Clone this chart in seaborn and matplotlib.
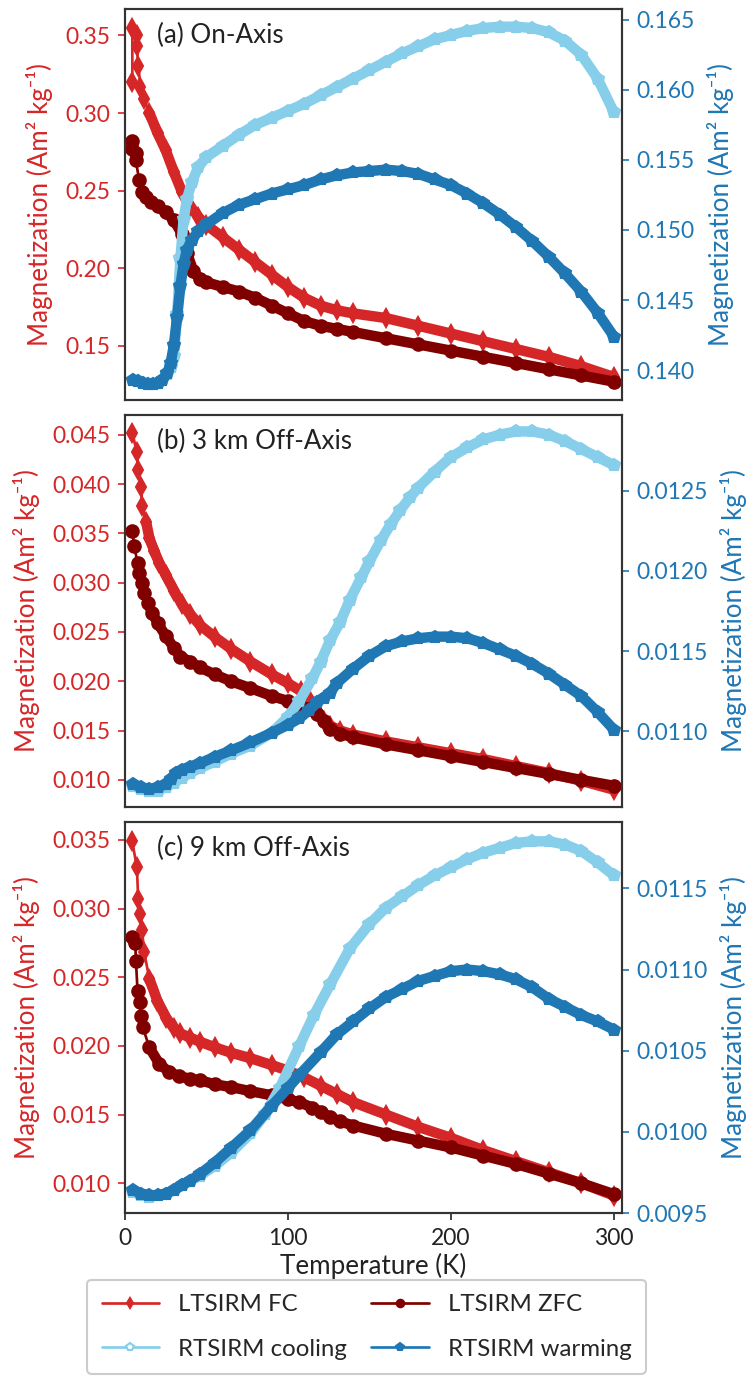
import numpy as np
import seaborn as sns
import matplotlib.pyplot as plt

# ---- datos ----
# (a) On-Axis
fc_a_T = [4.5, 4.5, 7.3, 7.3, 8.2, 9.5, 11.5, 15, 20, 25, 30, 35, 40, 45, 50, 60, 70, 80, 90, 100,
          110, 120, 130, 140, 160, 180, 200, 220, 240, 260, 280, 300]
fc_a = [0.320, 0.355, 0.350, 0.343, 0.330, 0.317, 0.309, 0.300, 0.287, 0.276, 0.262, 0.249, 0.240,
        0.233, 0.228, 0.220, 0.212, 0.204, 0.196, 0.188, 0.181, 0.176, 0.173, 0.171, 0.168, 0.163,
        0.158, 0.153, 0.148, 0.143, 0.137, 0.130]
zfc_a_T = [4.5, 4.5, 6.5, 6.5, 8.7, 10.6, 13, 16, 20, 25, 30, 35, 38, 42, 46, 50, 60, 70, 80, 90, 100,
           110, 120, 130, 140, 160, 180, 200, 220, 240, 260, 280, 300]
zfc_a = [0.282, 0.277, 0.2745, 0.270, 0.257, 0.249, 0.246, 0.243, 0.240, 0.236, 0.231, 0.222, 0.210,
         0.198, 0.193, 0.191, 0.188, 0.185, 0.181, 0.176, 0.171, 0.166, 0.163, 0.161, 0.159, 0.155,
         0.151, 0.147, 0.143, 0.139, 0.135, 0.131, 0.127]
rt_a_T = [5, 8, 11, 14, 17, 20, 23, 26, 28, 30, 32, 34, 36, 38, 41, 45, 50, 60, 70, 80, 90, 100, 110,
          120, 130, 140, 150, 160, 170, 180, 190, 200, 210, 220, 230, 240, 250, 260, 270, 280, 290, 300]
warm_a = [0.1393, 0.1392, 0.1391, 0.1390, 0.1390, 0.1391, 0.1393, 0.1398, 0.1405, 0.1418, 0.1438,
          0.1460, 0.1476, 0.1486, 0.1493, 0.1499, 0.1504, 0.1512, 0.1518, 0.1522, 0.1526, 0.1529,
          0.1532, 0.1536, 0.1539, 0.1541, 0.1542, 0.1543, 0.1542, 0.1540, 0.1536, 0.1532, 0.1526,
          0.1519, 0.1511, 0.1502, 0.1492, 0.1481, 0.1469, 0.1456, 0.1441, 0.1424]
cool_a = [0.1393, 0.1392, 0.1391, 0.1390, 0.1390, 0.1391, 0.1393, 0.1397, 0.1402, 0.1410, 0.1440,
          0.1480, 0.1508, 0.1522, 0.1534, 0.1545, 0.1552, 0.1560, 0.1568, 0.1575, 0.1580, 0.1585,
          0.1590, 0.1596, 0.1602, 0.1608, 0.1614, 0.1620, 0.1626, 0.1631, 0.1636, 0.1639, 0.1642,
          0.1644, 0.1645, 0.1645, 0.1644, 0.1641, 0.1635, 0.1625, 0.1608, 0.1584]

# (b) 3 km Off-Axis
fc_b_T = [4.5, 7.3, 8.1, 9.8, 10.6, 12.9, 15, 18, 21, 25, 30, 35, 40, 46, 55, 65, 77, 90, 100, 108,
          113, 118, 122, 126, 132, 140, 160, 180, 200, 220, 240, 260, 280, 300]
fc_b = [0.0452, 0.0432, 0.0414, 0.0397, 0.0378, 0.0362, 0.0345, 0.0332, 0.0320, 0.0308, 0.0292,
        0.0278, 0.0268, 0.0257, 0.0245, 0.0233, 0.0220, 0.0207, 0.0198, 0.0190, 0.0182, 0.0170,
        0.0160, 0.0155, 0.0150, 0.0146, 0.0139, 0.0133, 0.0127, 0.0121, 0.0114, 0.0107, 0.0099, 0.0090]
zfc_b_T = [4.5, 5.7, 7.7, 8.7, 10.4, 11.8, 14, 16.8, 20, 25, 30, 34, 40, 46, 55, 65, 77, 90, 100,
           107, 113, 118, 122, 126, 132, 140, 160, 180, 200, 220, 240, 260, 280, 300]
zfc_b = [0.0352, 0.0337, 0.0320, 0.0310, 0.0300, 0.0289, 0.0279, 0.0269, 0.0259, 0.0246, 0.0234,
         0.0225, 0.0220, 0.0214, 0.0207, 0.0200, 0.0193, 0.0185, 0.0180, 0.0176, 0.0172, 0.0167,
         0.0160, 0.0152, 0.0147, 0.0143, 0.0136, 0.0130, 0.0124, 0.0118, 0.0112, 0.0106, 0.0100, 0.0094]
warm_b_T = [5, 10, 15, 20, 25, 28, 31, 35, 40, 46, 55, 65, 77, 90, 100, 107, 113, 118, 122, 126, 130,
            140, 150, 160, 170, 180, 190, 200, 210, 220, 230, 240, 250, 260, 270, 280, 290, 300]
warm_b = [0.01067, 0.01065, 0.01064, 0.01065, 0.01067, 0.01070, 0.01074, 0.01076, 0.01078, 0.01080,
          0.01084, 0.01088, 0.01093, 0.01099, 0.01104, 0.01108, 0.01113, 0.01118, 0.01121, 0.01124,
          0.01130, 0.01139, 0.01147, 0.01153, 0.01156, 0.01158, 0.01159, 0.01159, 0.01158, 0.01155,
          0.01151, 0.01147, 0.01142, 0.01136, 0.01129, 0.01122, 0.01112, 0.01101]
cool_b_T = [5, 10, 15, 20, 25, 30, 35, 40, 46, 55, 65, 77, 90, 100, 107, 115, 120, 126, 132, 138, 145,
            150, 157, 163, 169, 175, 180, 190, 200, 210, 220, 230, 240, 250, 260, 270, 280, 290, 300]
cool_b = [0.01066, 0.01064, 0.01063, 0.01063, 0.01065, 0.01068, 0.01071, 0.01074, 0.01077, 0.01081,
          0.01086, 0.01091, 0.01099, 0.01109, 0.01119, 0.01133, 0.01143, 0.01157, 0.01168, 0.01182,
          0.01196, 0.01206, 0.01219, 0.01229, 0.01238, 0.01246, 0.01252, 0.01262, 0.01271, 0.01277,
          0.01282, 0.01285, 0.01287, 0.01287, 0.01285, 0.01281, 0.01276, 0.01271, 0.01266]

# (c) 9 km Off-Axis
fc_c_T = [4.4, 7.3, 8.1, 9.2, 10.4, 11.8, 14.9, 19.8, 25.4, 30, 34, 40, 46, 55, 65, 77, 90, 100, 110,
          120, 130, 140, 160, 180, 200, 220, 240, 260, 280, 300]
fc_c = [0.0349, 0.0330, 0.0307, 0.0296, 0.0284, 0.0268, 0.0249, 0.0233, 0.0220, 0.0213, 0.0209,
        0.0206, 0.0203, 0.0199, 0.0195, 0.0191, 0.0186, 0.0182, 0.0177, 0.0171, 0.0165, 0.0159,
        0.0150, 0.0141, 0.0133, 0.0124, 0.0116, 0.0108, 0.0100, 0.0091]
zfc_c_T = [4.5, 6.3, 6.7, 7.7, 9.2, 9.8, 10.8, 14.9, 21, 27, 33, 40, 46, 55, 65, 77, 90, 100, 107, 115,
           120, 126, 132, 140, 160, 180, 200, 220, 240, 260, 280, 300]
zfc_c = [0.0279, 0.0275, 0.0262, 0.0240, 0.0232, 0.0222, 0.0214, 0.0199, 0.0187, 0.0181, 0.0178,
         0.0176, 0.0175, 0.0172, 0.0170, 0.0167, 0.0164, 0.0161, 0.0159, 0.0155, 0.0152, 0.0148,
         0.0145, 0.0142, 0.0136, 0.0131, 0.0126, 0.0120, 0.0114, 0.0107, 0.0100, 0.0092]
warm_c_T = [5, 10, 15, 20, 25, 30, 35, 40, 46, 55, 65, 77, 90, 100, 107, 120, 130, 140, 150, 160, 170,
            180, 190, 200, 210, 220, 230, 240, 250, 260, 270, 280, 290, 300]
warm_c = [0.00964, 0.00962, 0.00961, 0.00961, 0.00962, 0.00964, 0.00967, 0.00970, 0.00974, 0.00981,
          0.00990, 0.01001, 0.01016, 0.01027, 0.01035, 0.01049, 0.01060, 0.01068, 0.01076, 0.01083,
          0.01088, 0.01093, 0.01096, 0.01099, 0.01100, 0.01099, 0.01097, 0.01094, 0.01089, 0.01082,
          0.01077, 0.01072, 0.01068, 0.01063]
cool_c_T = [5, 10, 15, 20, 25, 30, 35, 40, 46, 55, 65, 77, 86, 95, 107, 116, 126, 138, 150, 160, 170,
            180, 190, 200, 210, 220, 230, 240, 250, 260, 270, 280, 290, 300]
cool_c = [0.00963, 0.00961, 0.00960, 0.00961, 0.00962, 0.00964, 0.00967, 0.00970, 0.00973, 0.00979,
          0.00987, 0.00999, 0.01011, 0.01027, 0.01053, 0.01072, 0.01091, 0.01113, 0.01128, 0.01138,
          0.01145, 0.01152, 0.01158, 0.01163, 0.01168, 0.01172, 0.01175, 0.01178, 0.01179, 0.01179,
          0.01177, 0.01173, 0.01166, 0.01158]

paneles = ["(a) On-Axis", "(b) 3 km Off-Axis", "(c) 9 km Off-Axis"]
ylim_izq = [(0.1151, 0.367), (0.00729, 0.04696), (0.00783, 0.03631)]
ylim_der = [(0.13786, 0.16576), (0.01053, 0.01297), (0.0095, 0.01191)]

ROJO, GRANATE, CELESTE, AZUL = "#d62728", "#800000", "#87ceeb", "#1f77b4"

sns.set_style("ticks")
plt.rcParams["font.family"] = ["Lato", "DejaVu Sans"]
plt.rcParams["axes.edgecolor"] = "#333333"


def dibujar(ax, T, M, color, marker, mfc, label, t_banda=12):
    T = np.asarray(T, dtype=float)
    M = np.asarray(M, dtype=float)
    sns.lineplot(x=T, y=M, ax=ax, color=color, linewidth=1.3, marker=marker, markersize=6,
                 markerfacecolor=mfc, markeredgecolor=color, markeredgewidth=1.0, sort=False,
                 estimator=None, label=label)
    # banda gruesa que imita los puntos densos de la medida
    banda = T >= t_banda
    sns.lineplot(x=T[banda], y=M[banda], ax=ax, color=color, linewidth=5, sort=False,
                 estimator=None, legend=False)


fig, axes = plt.subplots(3, 1, figsize=(755 / 150, 1389 / 150), dpi=150, sharex=True)
fig.subplots_adjust(left=125 / 755, right=622 / 755, top=1 - 9 / 1389, bottom=1 - 1213 / 1389,
                    hspace=0.039)

datos = [
    (fc_a_T, fc_a, zfc_a_T, zfc_a, rt_a_T, cool_a, rt_a_T, warm_a),
    (fc_b_T, fc_b, zfc_b_T, zfc_b, cool_b_T, cool_b, warm_b_T, warm_b),
    (fc_c_T, fc_c, zfc_c_T, zfc_c, cool_c_T, cool_c, warm_c_T, warm_c),
]

etiqueta = "Magnetization (Am\u00b2 kg\u207b\u00b9)"
for i, ax in enumerate(axes):
    fT, fM, zT, zM, cT, cM, wT, wM = datos[i]
    dibujar(ax, fT, fM, ROJO, "d", ROJO, "LTSIRM FC")
    dibujar(ax, zT, zM, GRANATE, "o", GRANATE, "LTSIRM ZFC")
    ax2 = ax.twinx()
    dibujar(ax2, cT, cM, CELESTE, "p", "white", "RTSIRM cooling", t_banda=0)
    dibujar(ax2, wT, wM, AZUL, "p", AZUL, "RTSIRM warming", t_banda=0)

    ax.set_xlim(0, 305)
    ax.set_ylim(*ylim_izq[i])
    ax2.set_ylim(*ylim_der[i])
    ax.set_ylabel(etiqueta, color=ROJO, fontsize=12.5, labelpad=6)
    ax2.set_ylabel(etiqueta, color=AZUL, fontsize=12.5, labelpad=6)
    ax.tick_params(axis="y", colors=ROJO, labelsize=11, length=3.5, width=0.8)
    ax2.tick_params(axis="y", colors=AZUL, labelsize=11, length=3.5, width=0.8)
    ax.tick_params(axis="x", labelsize=11, length=3.5, width=0.8, colors="#222222")
    if i < 2:
        ax.tick_params(axis="x", length=0)
    for a in (ax, ax2):
        for s in a.spines.values():
            s.set_visible(True)
            s.set_linewidth(1.0)
            s.set_color("#333333")
    ax.text(0.065, 0.965, paneles[i], transform=ax.transAxes, va="top", ha="left",
            fontsize=12.5, color="#222222")
    if i == 0:
        h1, l1 = ax.get_legend_handles_labels()
        h2, l2 = ax2.get_legend_handles_labels()
    for a in (ax, ax2):
        if a.get_legend() is not None:
            a.get_legend().remove()
    ax.set_xlabel("")

axes[-1].set_xlabel("Temperature (K)", fontsize=12.5, color="#222222", labelpad=2)
axes[-1].set_xticks([0, 100, 200, 300])

handles = [h1[0], h2[0], h1[1], h2[1]]
labels = [l1[0], l2[0], l1[1], l2[1]]
fig.legend(handles, labels, loc="lower center", bbox_to_anchor=(0.4854, 0.002), ncol=2,
           fontsize=11.5, handlelength=2.4, handletextpad=0.8, columnspacing=1.0,
           labelspacing=1.0, borderpad=0.6, framealpha=1, edgecolor="#cccccc",
           numpoints=1, markerscale=0.6)

fig.savefig("out.png", dpi=150)
